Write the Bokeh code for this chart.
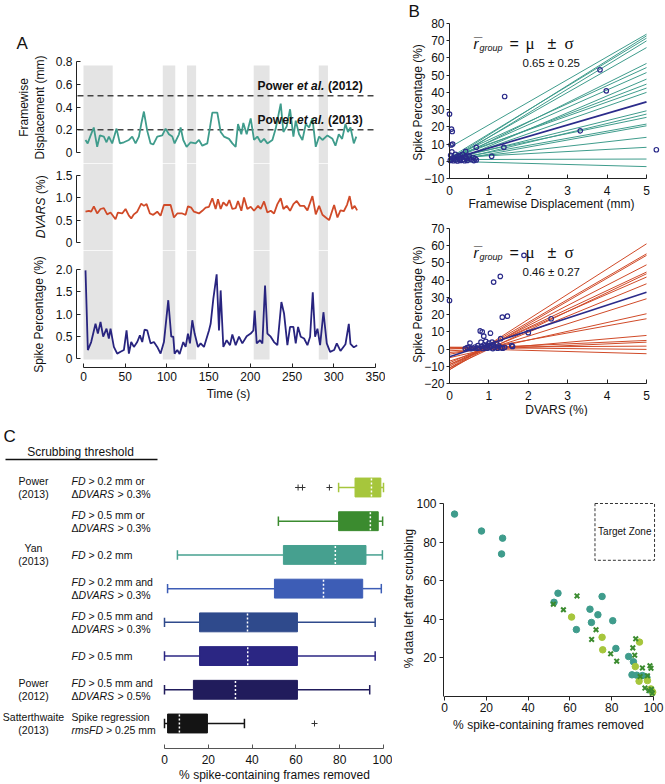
import math
from bokeh.plotting import figure
from bokeh.models import Range1d, FixedTicker, BoxAnnotation
from bokeh.layouts import row, column
from bokeh.embed import file_html
from bokeh.resources import INLINE
from bokeh.core.properties import value

FONT = "Liberation Sans"
SERIF = "Liberation Serif"

# ---------------- Panel A data ----------------
band_start = [0, 95, 124, 204, 282]
band_end = [35, 110, 135, 223, 293]

time_fd = [2.4, 5, 8, 12.3, 16.4, 19.6, 24.4, 27.6, 30.4, 34.4, 39.6, 43.6, 48.4, 54.4, 58.4, 62.4,
           66.4, 69.2, 72.4, 76.4, 80.4, 83.6, 88.4, 94.4, 98.4, 102.4, 106.4, 109.2, 114.4, 116.4,
           119.6, 123.6, 128.4, 134.4, 138.4, 142.4, 148.4, 151.6, 154.4, 160.4, 164.4, 168.4, 174.4,
           178.4, 182.4, 185.2, 189.2, 191.6, 195.6, 200.4, 204.4, 208.4, 212.4, 216.4, 220.4, 226.4,
           230.4, 236.4, 239.6, 243.6, 247.6, 251.6, 254.4, 258.4, 262.4, 266.4, 270.4, 274.4, 278.4,
           282.4, 286.4, 292.4, 298.4, 302, 306, 310, 314, 317, 320, 324, 327]
fd = [0.11, 0.08, 0.14, 0.22, 0.05, 0.15, 0.14, 0.09, 0.14, 0.08, 0.21, 0.08, 0.09, 0.11, 0.14, 0.08,
      0.14, 0.25, 0.36, 0.19, 0.08, 0.07, 0.14, 0.15, 0.21, 0.16, 0.14, 0.08, 0.16, 0.22,
      0.11, 0.05, 0.09, 0.08, 0.11, 0.06, 0.08, 0.22, 0.35, 0.35, 0.18, 0.14, 0.12,
      0.08, 0.05, 0.25, 0.16, 0.26, 0.16, 0.30, 0.11, 0.14, 0.09, 0.12, 0.08, 0.11,
      0.21, 0.43, 0.18, 0.23, 0.38, 0.14, 0.28, 0.16, 0.11, 0.25, 0.22, 0.30, 0.05,
      0.14, 0.11, 0.15, 0.12, 0.06, 0.16, 0.12, 0.25, 0.18, 0.22, 0.08, 0.14]

time_dv = [2.4, 6.4, 9.2, 12.4, 16.4, 20.4, 24.4, 28.4, 32.4, 38.4, 41.2, 46.4, 50.4, 54.4, 57.2,
           60.4, 64.4, 69.2, 72.4, 75.6, 79.6, 83.6, 88.4, 92.4, 96.4, 100.4, 104.4, 108.4, 112.4,
           118.4, 122.4, 125.2, 129.2, 132.4, 138.4, 142.4, 146.4, 150.4, 154.4, 158.4, 161.2, 164.4,
           167.6, 171.6, 174.8, 178.4, 182.4, 185.2, 189.2, 192.4, 196.4, 200.4, 204.4, 209.2, 212.4,
           216.4, 220.4, 224.4, 228.4, 232.4, 236.4, 239.6, 243.6, 247.6, 251.6, 255.6, 259.6, 264.4,
           268.4, 274.4, 278.4, 282.4, 286.4, 290.4, 294.4, 300.4, 304.4, 308, 312, 316, 319, 322,
           325, 328]
dvars = [0.69, 0.71, 0.69, 0.81, 0.65, 0.75, 0.77, 0.63, 0.67, 0.52, 0.67, 0.65, 0.75, 0.60, 0.54,
         0.63, 0.69, 0.87, 0.82, 0.86, 0.65, 0.62, 0.69, 0.60, 0.84, 0.84, 0.84, 0.56, 0.65,
         0.65, 0.62, 0.81, 0.78, 0.69, 0.65, 0.71, 0.78, 0.80, 0.99, 0.75, 0.97, 0.75,
         0.90, 0.82, 0.95, 0.75, 0.77, 0.93, 0.71, 1.01, 0.75, 0.80, 0.71, 0.82, 0.75,
         0.92, 0.67, 0.71, 0.65, 0.86, 0.99, 0.75, 0.82, 0.71, 0.86, 0.93, 0.82, 0.82,
         0.72, 1.04, 0.63, 0.82, 0.62, 0.56, 0.50, 0.84, 0.56, 0.72, 0.70, 0.85, 1.04, 0.75,
         0.82, 0.72]

time_sp = [2.4, 5.2, 9.2, 14.4, 17.2, 20.4, 23.6, 27.6, 30.4, 32.4, 36.4, 40.4, 44.4, 48.4, 51.6,
           54.4, 57.2, 60.4, 64.4, 67.6, 70.4, 73.2, 76.4, 80.4, 84.4, 88.4, 92.4, 96.4, 101.6, 105.2,
           107.6, 109.2, 112.4, 115.2, 119.6, 122.4, 125.2, 127.6, 130.4, 133.2, 137.2, 140.4, 144.4,
           150.4, 152.4, 155.6, 159.6, 162.4, 164.4, 167.6, 171.6, 175.6, 178.4, 182.4, 186.4, 190.4,
           195.6, 200.4, 203.6, 205.2, 207.6, 211.6, 214.4, 217.6, 220.4, 224.4, 228.4, 232.4, 237.2,
           240.4, 244.4, 247.6, 251.6, 254.4, 257.2, 260.4, 264.4, 268.4, 271.6, 274.8, 277.6, 280.4,
           283.6, 287.6, 291.6, 295.6, 300.4, 303.6, 308, 314, 318, 320, 324, 328]
spike = [1.98, 0.19, 0.37, 0.78, 0.56, 0.82, 0.49, 0.67, 0.45, 0.67, 0.26, 0.11, 0.15, 0.19, 0.63,
         0.11, 0.37, 0.26, 0.37, 0.52, 0.37, 0.65, 0.63, 0.34, 0.37, 0.26, 0.11, 0.37, 1.31, 0.49,
         0.49, 0.11, 0.19, 0.10, 0.37, 0.26, 0.56, 0.34, 0.86, 0.56, 0.26, 0.34, 0.26,
         0.63, 0.78, 1.34, 1.89, 0.63, 1.53, 0.26, 0.41, 0.30, 0.54, 0.30, 0.49, 0.34,
         0.50, 0.56, 0.63, 1.08, 0.34, 0.41, 0.34, 1.64, 0.56, 0.49, 0.37, 0.30, 1.27,
         1.01, 0.30, 0.71, 0.71, 0.34, 0.71, 0.49, 0.45, 0.30, 0.49, 1.49, 0.49, 0.67,
         0.30, 1.04, 0.34, 0.15, 0.19, 0.34, 0.17, 0.32, 0.78, 0.33, 0.25, 0.30]

fd_thresholds = [0.5, 0.2]
fd_threshold_names = ["(2012)", "(2013)"]

# ---------------- Panel B data ----------------
fd_fit_y0 = [8, 1, 2, 0, 1, 0, 2, 1, -1, 1, 2, 0, 1, 0, 2, 1, 0, 1, 2, 1, 0]
fd_fit_y5 = [73.8, 72.8, 71.5, 69.9, 66, 56.8, 54.4, 51.5, 47.7, 44.8, 42.5, 40, 29.3, 27.4,
             25.5, 21.6, 20.6, 13.9, 8.1, 1.3, -3.1]
fd_mean_fit = [1.0, 34.5]
fd_pts_x = [0.02, 0.05, 0.08, 0.1, 0.12, 0.15, 0.18, 0.2, 0.22, 0.25, 0.28, 0.3, 0.33, 0.35, 0.38,
            0.4, 0.43, 0.45, 0.5, 0.55, 0.6, 0.62, 0.65, 0.68, 0.03, 0.06, 0.04, 0.08, 0.0, 0.05,
            0.07, 0.41, 0.68, 1.07, 1.4, 1.38, 3.32, 3.82, 3.98, 5.25, 0.27, 0.15, 0.5]
fd_pts_y = [0.5, 1, 2, 0.3, 1.5, 0.8, 2.5, 0.2, 3, 1.2, 0.5, 2, 4, 1, 0.3,
            2.5, 1.5, 0.5, 1.8, 1, 2.2, 0.4, 1.5, 0.8, 3.5, 5.5, 9.5, 10, 27.4, 18.7,
            17.3, 5.8, 8.1, 2.9, 37.6, 8.1, 17.7, 53.1, 40.9, 6.7, 3.5, 4, 3]

dv_fit_y0 = [-12, -11, -12, -10, -9, -11, -8, -9, -7, -5, -3, -2, 0, -1, 1, 1, 0.5]
dv_fit_y5 = [61.1, 55.3, 54.4, 48.9, 44.7, 43.7, 41.8, 37.9, 29.2, 20.5, 17.6, 7.9, 5, 4, 1.7,
             -0.2, -2.7]
dv_mean_fit = [-4.5, 33.0]
dv_pts_x = [0.0, 1.89, 1.29, 1.12, 1.34, 1.47, 0.78, 0.83, 1.04, 0.87, 2.0, 2.58, 1.3, 1.6, 1.58,
            0.4, 0.45, 0.52, 0.6, 0.65, 0.7, 0.72, 0.75, 0.8, 0.82, 0.85, 0.88, 0.9, 0.92, 0.95,
            0.97, 1.0, 1.02, 1.05, 1.08, 1.1, 1.12, 1.15, 1.2, 1.22, 1.25, 1.3, 1.35, 1.4, 0.5, 0.55]
dv_pts_y = [28.2, 54.4, 42.2, 38.9, 18.5, 19.1, 10.5, 10, 9.2, 7.5, 9.5, 17.6, 6, 1.5, 2,
            0.3, 0.8, 3.5, 0.5, 1.2, 0.4, 2, 0.6, 4, 1.5, 0.3, 2.5, 1, 4.5, 0.5,
            2, 3.5, 0.8, 1.5, 4, 0.3, 2.2, 1, 3, 0.5, 1.8, 0.8, 0.5, 1, 1.2, 0.2]

# ---------------- Panel C data ----------------
group_names = ["Power", "", "Yan", "", "", "", "Power", "Satterthwaite"]
group_years = ["(2013)", "", "(2013)", "", "", "", "(2012)", "(2013)"]
cond_line1 = [[("FD", "italic"), (" > 0.2 mm or", "normal")],
              [("FD", "italic"), (" > 0.5 mm  or", "normal")],
              [("FD", "italic"), (" > 0.2 mm", "normal")],
              [("FD", "italic"), (" > 0.2 mm and", "normal")],
              [("FD", "italic"), (" > 0.5 mm and", "normal")],
              [("FD", "italic"), (" > 0.5 mm", "normal")],
              [("FD", "italic"), (" > 0.5 mm and", "normal")],
              [("Spike regression", "normal")]]
cond_line2 = [[("\u0394", "normal"), ("DVARS", "italic"), (" > 0.3%", "normal")],
              [("\u0394", "normal"), ("DVARS", "italic"), (" > 0.3%", "normal")],
              None,
              [("\u0394", "normal"), ("DVARS", "italic"), (" > 0.3%", "normal")],
              [("\u0394", "normal"), ("DVARS", "italic"), (" > 0.3%", "normal")],
              None,
              [("\u0394", "normal"), ("DVARS", "italic"), (" > 0.5%", "normal")],
              [("rmsFD", "italic"), (" > 0.25 mm", "normal")]]

whisk_lo = [79.5, 52.0, 5.9, 1.4, 0.0, 0.0, 0.0, 0.0]
q1 = [87.0, 79.5, 54.3, 50.2, 16.0, 16.0, 13.2, 1.4]
median = [94.5, 94.0, 78.0, 72.6, 37.9, 38.0, 32.4, 6.8]
q3 = [98.8, 97.6, 92.0, 90.5, 60.7, 60.7, 60.7, 19.6]
whisk_hi = [100.0, 99.6, 99.5, 99.0, 96.2, 96.2, 93.7, 36.5]
box_colors = ["#a6c63c", "#3b8b2f", "#46a08f", "#3d5db6", "#2f4a8c", "#2b2683", "#211c5c", "#141414"]
outlier_row = [0, 0, 0, 7]
outlier_x = [61.0, 63.0, 75.3, 68.5]

teal_x = [4.8, 17.7, 27.8, 27.3, 54.3, 52.4, 75.4, 69.6, 73.4, 80.5, 70.3, 63.1, 82.0, 88.1, 90.4,
          89.7, 92.0, 94.7, 96.8, 98.5]
teal_y = [94.5, 85.7, 82.0, 73.8, 53.4, 48.7, 51.7, 45.1, 42.2, 39.1, 38.2, 34.5, 24.7, 20.5, 17.8,
          11.0, 10.8, 10.6, 9.8, 3.0]
lime_x = [60.8, 75.4, 75.7, 93.3, 91.3, 93.1, 97.1, 98.7, 99.6]
lime_y = [41.0, 30.5, 24.0, 28.0, 15.3, 7.7, 8.0, 3.7, 2.0]
green_x = [52.1, 56.9, 63.4, 72.5, 70.4, 79.5, 82.4, 91.5, 90.1, 91.0, 94.7, 98.3, 98.8, 93.6,
           97.1, 95.9, 97.8, 99.4, 99.0]
green_y = [47.7, 44.8, 52.0, 34.4, 29.4, 21.9, 18.1, 29.7, 25.0, 21.2, 14.6, 15.7, 14.4, 10.1,
           10.5, 4.1, 2.8, 1.4, 3.5]
target_x = [72, 100.5]
target_y = [70.5, 100]

TEAL = "#3f9c8c"
RED = "#d04a28"
NAVY = "#28247f"
PT_BLUE = "#2b2b8a"
INK = "#111111"
UP = math.pi / 2

# Arial-metric widths (em) for label segment offsets
CW = {"F": .611, "D": .722, "\u0394": .668, "V": .667, "A": .667, "R": .722, "S": .667,
      "r": .333, "m": .833, "s": .5, " ": .278}


def seg_width(s, size):
    return sum(CW.get(c, .556) for c in s) * size


def lin(p0, d0, p1, d1):
    k = (d1 - d0) / (p1 - p0)
    return lambda px: d0 + (px - p0) * k


def make_fig(w, h, xr, yr, **kw):
    p = figure(width=w, height=h, x_range=xr, y_range=yr, output_backend="svg",
               toolbar_location=None, min_border_left=0, min_border_right=0,
               min_border_top=0, min_border_bottom=0, **kw)
    p.grid.visible = False
    p.outline_line_color = None
    p.background_fill_color = "white"
    p.border_fill_color = "white"
    return p


def style_axis(ax, ticks, bounds, fixed, overrides=None, tin=0, tout=3, standoff=4,
               color="#222222"):
    ax.ticker = FixedTicker(ticks=ticks)
    ax.bounds = bounds
    ax.fixed_location = fixed
    ax.major_tick_in = tin
    ax.major_tick_out = tout
    ax.minor_tick_in = 0
    ax.minor_tick_out = 0
    ax.major_label_standoff = standoff
    ax.major_label_text_font = FONT
    ax.major_label_text_font_size = "12px"
    ax.major_label_text_color = INK
    ax.axis_line_color = color
    ax.major_tick_line_color = color
    if overrides:
        ax.major_label_overrides = overrides


def txt(p, x, y, s, size="10.5px", style="normal", align="left", base="middle", xo=0, yo=0,
        font=FONT, color=INK, angle=0.0):
    p.text(x=[x], y=[y], text=[s], text_font=value(font), text_font_size=size,
           text_font_style=style, text_align=align, text_baseline=base, x_offset=xo,
           y_offset=yo, text_color=color, angle=angle)


def add_bands(p, top=None, bottom=None):
    for s, e in zip(band_start, band_end):
        kw = {}
        if top is not None:
            kw["top"] = top
        if bottom is not None:
            kw["bottom"] = bottom
        p.add_layout(BoxAnnotation(left=s, right=e, fill_color="#e4e4e4", fill_alpha=1,
                                   line_color=None, level="underlay", **kw))


# ---------------- Panel A (page x 0..385, y 0..416) ----------------
fxA = lin(83, 0, 375, 350)
xA = Range1d(fxA(0), fxA(385))
axA = fxA(76)

fy1 = lin(152, 0, 61, 0.8)
a1 = make_fig(385, 163, xA, Range1d(fy1(163), fy1(0)), x_axis_location=None)
add_bands(a1, top=fy1(65))
a1.segment(x0=fxA(77), y0=fd_thresholds, x1=350, y1=fd_thresholds, line_color="#444444",
           line_width=1.5, line_dash="6 4")
a1.line(time_fd, fd, line_color=TEAL, line_width=1.8)
for lvl, yr_name in zip(fd_thresholds, fd_threshold_names):
    txt(a1, fxA(257), lvl, "Power", size="12px", style="bold", yo=-10)
    txt(a1, fxA(257), lvl, "et al.", size="12px", style="bold italic", yo=-10, xo=39.5)
    txt(a1, fxA(257), lvl, yr_name, size="12px", style="bold", yo=-10, xo=70.5)
style_axis(a1.yaxis[0], [0, 0.2, 0.4, 0.6, 0.8], (0, 0.8), axA, tin=4, tout=0)
txt(a1, fxA(16), fy1(43), "A", size="17px")
txt(a1, fxA(23), fy1(107), "Framewise", size="12px", align="center", angle=UP)
txt(a1, fxA(39), fy1(107), "Displacement (mm)", size="12px", align="center", angle=UP)

fy2 = lin(242, 0, 175, 1.5)
a2 = make_fig(385, 87, xA, Range1d(fy2(250), fy2(163)), x_axis_location=None)
add_bands(a2)
a2.line(time_dv, dvars, line_color=RED, line_width=1.8)
style_axis(a2.yaxis[0], [0, 0.5, 1, 1.5], (0, 1.5), axA, overrides={1: "1.0"}, tin=4, tout=0)
txt(a2, fxA(40), fy2(197), "DVARS", size="12px", style="italic", align="right", angle=UP)
txt(a2, fxA(40), fy2(197), "(%)", size="12px", align="left", angle=UP, yo=-3.5)

fy3 = lin(358, 0, 269, 2.0)
a3 = make_fig(385, 166, xA, Range1d(fy3(416), fy3(250)))
add_bands(a3, bottom=fy3(359))
a3.line(time_sp, spike, line_color=NAVY, line_width=1.8)
style_axis(a3.yaxis[0], [0, 0.5, 1, 1.5, 2], (0, 2), axA, overrides={1: "1.0", 2: "2.0"},
           tin=4, tout=0)
style_axis(a3.xaxis[0], list(range(0, 351, 50)), (0, 350), fy3(367), tin=4, tout=0, standoff=4)
txt(a3, fxA(38), fy3(314), "Spike Percentage (%)", size="12px", align="center", angle=UP)
txt(a3, fxA(228), fy3(393), "Time (s)", size="12px", align="center")

# ---------------- Panel B (page x 385..665, y 0..416) ----------------
fxB = lin(449, 0, 646, 5)
xB = Range1d(fxB(385), fxB(665))

fyB1 = lin(178, -10, 23, 80)
b1 = make_fig(280, 214, xB, Range1d(fyB1(214), fyB1(0)))
b1.segment(x0=0, y0=fd_fit_y0, x1=5, y1=fd_fit_y5, line_color=TEAL, line_width=1)
b1.segment(x0=[0], y0=[fd_mean_fit[0]], x1=[5], y1=[fd_mean_fit[1]], line_color=PT_BLUE,
           line_width=1.8)
b1.scatter(fd_pts_x, fd_pts_y, marker="circle", size=4.5, fill_color=None, line_color=PT_BLUE,
           line_width=1.2)
style_axis(b1.yaxis[0], list(range(-10, 81, 10)), (-10, 80), 0, tin=0, tout=3, standoff=2)
style_axis(b1.xaxis[0], [0, 1, 2, 3, 4, 5], (0, 5), -10, tin=4, tout=0, standoff=7)
txt(b1, fxB(408), fyB1(11), "B", size="17px")
txt(b1, fxB(417), fyB1(102), "Spike Percentage (%)", size="12px", align="center", angle=UP)
txt(b1, fxB(551), fyB1(203), "Framewise Displacement (mm)", size="12px", align="center")

fyB2 = lin(383, -20, 228, 70)
b2 = make_fig(280, 202, xB, Range1d(fyB2(416), fyB2(214)))
b2.segment(x0=0, y0=dv_fit_y0, x1=5, y1=dv_fit_y5, line_color=RED, line_width=1)
b2.segment(x0=[0], y0=[dv_mean_fit[0]], x1=[5], y1=[dv_mean_fit[1]], line_color=PT_BLUE,
           line_width=1.5)
b2.scatter(dv_pts_x, dv_pts_y, marker="circle", size=4.5, fill_color=None, line_color=PT_BLUE,
           line_width=1.2)
style_axis(b2.yaxis[0], list(range(-20, 71, 10)), (-20, 70), 0, tin=0, tout=3, standoff=2)
style_axis(b2.xaxis[0], [0, 1, 2, 3, 4, 5], (0, 5), -20, tin=4, tout=0, standoff=7)
txt(b2, fxB(417), fyB2(304), "Spike Percentage (%)", size="12px", align="center", angle=UP)
txt(b2, fxB(556), fyB2(409), "DVARS (%)", size="12px", align="center")


def formula(p, ax, ay, stats):
    txt(p, ax, ay, "r", size="15px", style="italic", base="alphabetic")
    txt(p, ax, ay, "\u00af", size="15px", base="alphabetic", xo=0.5, yo=-1)
    txt(p, ax, ay, "group", size="9px", style="italic", base="alphabetic", xo=6, yo=4)
    txt(p, ax, ay, "=", size="16px", base="alphabetic", xo=36)
    txt(p, ax, ay, "\u03bc", size="17px", base="alphabetic", xo=52, font=SERIF)
    txt(p, ax, ay, "\u00b1", size="16px", base="alphabetic", xo=74)
    txt(p, ax, ay, "\u03c3", size="17px", base="alphabetic", xo=91, font=SERIF)
    txt(p, ax, ay, stats, size="11.5px", base="alphabetic", xo=49, yo=19)


formula(b1, fxB(473), fyB1(43), "0.65 \u00b1 0.25")
formula(b2, fxB(473), fyB2(252), "0.46 \u00b1 0.27")

# ---------------- Panel C: labels + box plot (page y 416..782) ----------------
n_rows = len(whisk_lo)
row_y = [n_rows - i for i in range(n_rows)]
fyC = lin(723, 1, 487, 8)
yC = Range1d(fyC(782), fyC(416))

lab = make_fig(160, 366, Range1d(0, 160), yC, x_axis_location=None, y_axis_location=None)
txt(lab, 3, fyC(436), "C", size="17px")
txt(lab, 80, fyC(451), "Scrubbing threshold", size="12px", align="center")
lab.segment(x0=[5], y0=[fyC(459)], x1=[157], y1=[fyC(459)], line_color=INK, line_width=1.5)
for yv, gname, gyear in zip(row_y, group_names, group_years):
    if gname:
        txt(lab, 33, yv, gname, size="10.5px", align="center", yo=-6.5)
        txt(lab, 33, yv, gyear, size="10.5px", align="center", yo=6.5)
for yv, l1, l2 in zip(row_y, cond_line1, cond_line2):
    lines = [l1] if l2 is None else [l1, l2]
    offs = [0] if l2 is None else [-6.5, 6.5]
    for segs, yo in zip(lines, offs):
        xo = 0
        for s, st in segs:
            lead = len(s) - len(s.lstrip(" "))
            xo += lead * CW[" "] * 10.5
            body = " ".join(s.split())
            txt(lab, 71, yv, body, size="10.5px", style=st, xo=xo, yo=yo)
            xo += seg_width(body, 10.5)

fxBx = lin(164, 0, 383, 100)
bx = make_fig(232, 366, Range1d(fxBx(160), fxBx(392)), yC, y_axis_location=None)
bx.segment(x0=whisk_lo, y0=row_y, x1=q1, y1=row_y, line_color=box_colors, line_width=1.5)
bx.segment(x0=q3, y0=row_y, x1=whisk_hi, y1=row_y, line_color=box_colors, line_width=1.5)
bx.segment(x0=whisk_lo, y0=[y - 0.14 for y in row_y], x1=whisk_lo, y1=[y + 0.14 for y in row_y],
           line_color=box_colors, line_width=1.5)
bx.segment(x0=whisk_hi, y0=[y - 0.14 for y in row_y], x1=whisk_hi, y1=[y + 0.14 for y in row_y],
           line_color=box_colors, line_width=1.5)
bx.hbar(y=row_y, left=q1, right=q3, height=0.56, fill_color=box_colors, line_color=box_colors)
bx.segment(x0=median, y0=[y - 0.27 for y in row_y], x1=median, y1=[y + 0.27 for y in row_y],
           line_color="white", line_width=1.5, line_dash="2 2")
bx.scatter(outlier_x, [row_y[r] for r in outlier_row], marker="cross", size=6,
           line_color="#333333", line_width=1)
style_axis(bx.xaxis[0], [0, 20, 40, 60, 80, 100], (0, 100), fyC(748), tin=4, tout=0, standoff=6,
           color="#555555")
txt(bx, fxBx(274), fyC(774), "% spike-containing frames removed", size="12px", align="center")

# ---------------- Panel C: scatter ----------------
fxS = lin(444, 0, 653, 100)
fyS = lin(695.5, 0, 503, 100)
sc = make_fig(273, 366, Range1d(fxS(392), fxS(665)), Range1d(fyS(782), fyS(416)))
sc.quad(left=[target_x[0]], right=[target_x[1]], bottom=[target_y[0]], top=[target_y[1]],
        fill_color=None, line_color="#333333", line_dash="3 2", line_width=1)
txt(sc, (target_x[0] + target_x[1]) / 2, (target_y[0] + target_y[1]) / 2, "Target Zone",
    size="10px", align="center")
sc.scatter(teal_x, teal_y, marker="circle", size=6.5, fill_color=TEAL, line_color=TEAL)
sc.scatter(lime_x, lime_y, marker="circle", size=6.5, fill_color="#a6c63c", line_color="#a6c63c")
sc.scatter(green_x, green_y, marker="x", size=6.5, line_color="#3b8b2f", line_width=2)
style_axis(sc.xaxis[0], [0, 20, 40, 60, 80, 100], (0, 100), 0, tin=0, tout=4, standoff=3)
style_axis(sc.yaxis[0], [20, 40, 60, 80, 100], (0, 100), fxS(443), tin=0, tout=4, standoff=3)
txt(sc, fxS(408), fyS(598), "% data left after scrubbing", size="12px", align="center", angle=UP)
txt(sc, fxS(548), fyS(724), "% spike-containing frames removed", size="12px", align="center")

layout = column(
    row(column(a1, a2, a3, spacing=0), column(b1, b2, spacing=0), spacing=0),
    row(column(row(lab, bx, spacing=0), spacing=0), column(sc, spacing=0), spacing=0),
    spacing=0,
)

open("out.html", "w").write(file_html(layout, INLINE))
